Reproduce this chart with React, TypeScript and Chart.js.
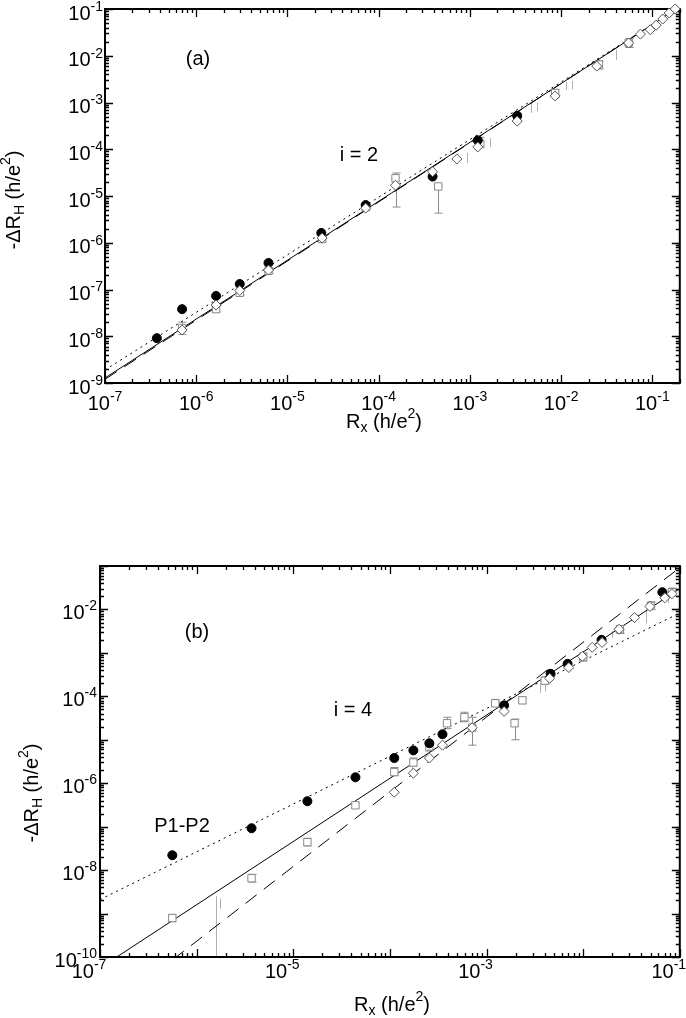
import React, { useEffect, useRef } from "react";
import { Chart, registerables } from "chart.js";
Chart.register(...registerables);

// ================= Panel (a): i = 2 =================
const circlesA_x = [3.7e-7, 7.0e-7, 1.65e-6, 3.0e-6, 6.2e-6, 2.35e-5, 7.2e-5, 3.9e-4, 1.22e-3, 3.3e-3];
const circlesA_y = [9.1e-9, 3.8e-8, 7.3e-8, 1.31e-7, 3.7e-7, 1.62e-6, 6.4e-6, 2.6e-5, 1.55e-4, 5.2e-4];

const squaresA_x = [7.0e-7, 1.65e-6, 3.0e-6, 6.2e-6, 2.4e-5, 7.2e-5, 1.53e-4, 4.5e-4, 1.3e-3, 3.3e-3, 8.6e-3, 2.6e-2, 5.5e-2];
const squaresA_y = [1.5e-8, 3.8e-8, 8.5e-8, 2.5e-7, 1.2e-6, 5.8e-6, 2.4e-5, 1.6e-5, 1.3e-4, 4.6e-4, 1.6e-3, 6.5e-3, 1.9e-2];
const squaresA_lo = [1.1e-8, 3.3e-8, 7.5e-8, 2.2e-7, 1.05e-6, 5.0e-6, 5.8e-6, 4.3e-6, 1.1e-4, 3.9e-4, 1.3e-3, 5.2e-3, 1.5e-2];
const squaresA_hi = [2.0e-8, 4.5e-8, 1.0e-7, 2.9e-7, 1.4e-6, 6.8e-6, 3.1e-5, 1.7e-5, 1.8e-4, 5.6e-4, 1.9e-3, 7.8e-3, 2.3e-2];

const diamondsA_x = [7.0e-7, 1.65e-6, 3.0e-6, 6.2e-6, 2.4e-5, 7.2e-5, 1.53e-4, 3.9e-4, 7.2e-4, 1.22e-3, 3.3e-3, 8.6e-3, 2.46e-2, 5.5e-2, 7.4e-2, 9.5e-2, 0.11, 0.13, 0.153, 0.178];
const diamondsA_y = [1.36e-8, 4.65e-8, 9.5e-8, 2.6e-7, 1.26e-6, 5.5e-6, 1.7e-5, 3.3e-5, 6.2e-5, 1.12e-4, 4.0e-4, 1.38e-3, 6.0e-3, 1.87e-2, 2.9e-2, 3.6e-2, 4.5e-2, 6.1e-2, 8.2e-2, 0.1];

const barsA_x = [9.3e-4, 1.65e-3, 4.7e-3, 5.5e-3, 1.13e-2, 1.32e-2, 3.96e-2];
const barsA_lo = [5.1e-5, 1.12e-4, 6.0e-4, 6.5e-4, 1.85e-3, 1.9e-3, 8.1e-3];
const barsA_hi = [8.3e-5, 1.74e-4, 9.8e-4, 1.0e-3, 2.75e-3, 2.9e-3, 1.33e-2];

const fitSolidA_x = [1e-7, 0.2];
const fitSolidA_y = [1.28e-9, 0.111];
const fitDottedA_x = [1e-7, 0.2];
const fitDottedA_y = [1.9e-9, 0.11];
const fitDashedA_x = [1e-7, 0.2];
const fitDashedA_y = [1.2e-9, 0.112];

const xLabelExpA = [-7, -6, -5, -4, -3, -2, -1];
const yLabelExpA = [-9, -8, -7, -6, -5, -4, -3, -2, -1];

// ================= Panel (b): i = 4 =================
const circlesB_x = [5.6e-7, 3.7e-6, 1.4e-5, 4.4e-5, 1.11e-4, 1.75e-4, 2.56e-4, 3.5e-4, 1.52e-3, 4.6e-3, 6.9e-3, 1.55e-2, 6.6e-2];
const circlesB_y = [2.2e-8, 9.2e-8, 3.85e-7, 1.37e-6, 3.8e-6, 5.7e-6, 8.3e-6, 1.34e-5, 6.2e-5, 3.3e-4, 5.6e-4, 2.0e-3, 2.5e-2];

const squaresB_x = [5.6e-7, 3.7e-6, 1.4e-5, 4.4e-5, 1.11e-4, 1.75e-4, 2.56e-4, 3.9e-4, 5.9e-4, 7.1e-4, 1.23e-3, 1.95e-3, 2.35e-3, 4.0e-3, 1.0e-2, 2.4e-2, 5.0e-2, 8.3e-2];
const squaresB_y = [7.9e-10, 6.5e-9, 4.4e-8, 3.1e-7, 1.8e-6, 3.0e-6, 7.0e-6, 2.4e-5, 3.3e-5, 1.9e-5, 6.9e-5, 2.4e-5, 8.1e-5, 2.3e-4, 8.0e-4, 3.5e-3, 1.2e-2, 2.5e-2];
const squaresB_lo = [6.5e-10, 5.3e-9, 3.6e-8, 2.7e-7, 1.5e-6, 2.5e-6, 5.5e-6, 1.8e-5, 2.6e-5, 7.5e-6, 5.8e-5, 1.0e-5, 6.8e-5, 1.9e-4, 6.5e-4, 2.8e-3, 1.0e-2, 2.1e-2];
const squaresB_hi = [9.5e-10, 8.0e-9, 5.4e-8, 3.6e-7, 2.3e-6, 3.8e-6, 9.0e-6, 3.3e-5, 4.3e-5, 3.3e-5, 8.5e-5, 3.0e-5, 9.6e-5, 2.8e-4, 1.0e-3, 4.3e-3, 1.5e-2, 3.1e-2];

const diamondsB_x = [1.11e-4, 1.75e-4, 2.56e-4, 3.5e-4, 7.1e-4, 1.52e-3, 4.5e-3, 7.1e-3, 9.8e-3, 1.24e-2, 1.57e-2, 2.35e-2, 3.4e-2, 4.9e-2, 7.0e-2, 8.3e-2];
const diamondsB_y = [6.2e-7, 1.7e-6, 3.8e-6, 7.5e-6, 1.9e-5, 4.5e-5, 2.6e-4, 4.6e-4, 8.3e-4, 1.34e-3, 1.74e-3, 3.5e-3, 6.5e-3, 1.17e-2, 1.85e-2, 2.3e-2];

const barsB_x = [1.6e-6, 1.75e-6, 1.7e-4, 3.6e-3, 4.0e-3, 1.7e-2, 2.0e-2, 4.5e-2, 7.5e-2];
const barsB_lo = [1e-10, 1.3e-9, 2e-6, 1.2e-4, 1.3e-4, 1.7e-3, 2.2e-3, 4.8e-3, 1.4e-2];
const barsB_hi = [2.5e-9, 2.2e-9, 4e-6, 2e-4, 2.2e-4, 2.3e-3, 3.2e-3, 9.5e-3, 2.5e-2];

const fitSolidB_x = [1e-7, 0.1];
const fitSolidB_y = [5.6e-11, 3.0e-2];
const fitDottedB_x = [1e-7, 0.1];
const fitDottedB_y = [2.1e-9, 8.3e-3];
const fitDashedB_x = [1e-7, 0.1];
const fitDashedB_y = [4.4e-12, 9.2e-2];

const xLabelExpB = [-7, -5, -3, -1];
const yLabelExpB = [-10, -8, -6, -4, -2];

// ================= drawing helpers =================
const FONT = '"Liberation Sans", Arial, Helvetica, sans-serif';
const BIG = "20px " + FONT;
const SMALL = "14px " + FONT;

type Seg = [string, "n" | "sub" | "sup"];

function drawRich(ctx: CanvasRenderingContext2D, segs: Seg[], cx: number, cy: number, rotate: boolean) {
  ctx.save();
  ctx.translate(cx, cy);
  if (rotate) ctx.rotate(-Math.PI / 2);
  ctx.textBaseline = "middle";
  ctx.textAlign = "left";
  ctx.fillStyle = "#000";
  const widths = segs.map(([t, k]) => {
    ctx.font = k === "n" ? BIG : SMALL;
    return ctx.measureText(t).width;
  });
  const total = widths.reduce((a, b) => a + b, 0);
  let xx = -total / 2;
  segs.forEach(([t, k], i) => {
    ctx.font = k === "n" ? BIG : SMALL;
    const dy = k === "sub" ? 6 : k === "sup" ? -8 : 0;
    ctx.fillText(t, xx, dy);
    xx += widths[i];
  });
  ctx.restore();
}

function drawPow(ctx: CanvasRenderingContext2D, exp: number, px: number, py: number, align: "center" | "right") {
  ctx.save();
  ctx.textBaseline = "middle";
  ctx.textAlign = "left";
  ctx.fillStyle = "#000";
  ctx.font = BIG;
  const bw = ctx.measureText("10").width;
  ctx.font = SMALL;
  const es = String(exp);
  const ew = ctx.measureText(es).width;
  const total = bw + ew;
  const left = align === "center" ? px - total / 2 : px - total;
  ctx.font = BIG;
  ctx.fillText("10", left, py);
  ctx.font = SMALL;
  ctx.fillText(es, left + bw, py - 7);
  ctx.restore();
}

type PanelCfg = {
  xLabelExp: number[];
  yLabelExp: number[];
  xLabelDx: number;
  xLabelY: number;
  yLabelRight: number;
  yLabelDy: number;
  xTitle: [number, number];
  yTitle: [number, number];
  notes: { text: string; x: number; y: number }[];
  errX: number[];
  errLo: number[];
  errHi: number[];
  barX: number[];
  barLo: number[];
  barHi: number[];
};

function makePlugin(cfg: PanelCfg) {
  return {
    id: "panelFrame",
    beforeDatasetsDraw(chart: any) {
      const { ctx, chartArea: a } = chart;
      const xs = chart.scales.x;
      const ys = chart.scales.y;
      ctx.save();
      // error bars of squares
      ctx.strokeStyle = "#8a8a8a";
      ctx.lineWidth = 1;
      cfg.errX.forEach((xv, i) => {
        const px = Math.round(xs.getPixelForValue(xv)) + 0.5;
        const lo = ys.getPixelForValue(cfg.errLo[i]);
        const hi = ys.getPixelForValue(cfg.errHi[i]);
        ctx.beginPath();
        ctx.moveTo(px, lo);
        ctx.lineTo(px, hi);
        ctx.moveTo(px - 4, lo);
        ctx.lineTo(px + 4, lo);
        ctx.moveTo(px - 4, hi);
        ctx.lineTo(px + 4, hi);
        ctx.stroke();
      });
      // extra grey bars
      ctx.strokeStyle = "#b0b0b0";
      cfg.barX.forEach((xv, i) => {
        const px = Math.round(xs.getPixelForValue(xv)) + 0.5;
        ctx.beginPath();
        ctx.moveTo(px, ys.getPixelForValue(cfg.barLo[i]));
        ctx.lineTo(px, ys.getPixelForValue(cfg.barHi[i]));
        ctx.stroke();
      });
      // ticks (inward on all four sides)
      ctx.strokeStyle = "#000";
      ctx.lineWidth = 1.3;
      const ex0 = Math.floor(Math.log10(xs.min));
      const ex1 = Math.ceil(Math.log10(xs.max));
      ctx.beginPath();
      for (let e = ex0; e <= ex1; e++) {
        for (let m = 1; m <= 9; m++) {
          const v = m * Math.pow(10, e);
          if (v < xs.min * 0.9999 || v > xs.max * 1.0001) continue;
          const px = Math.round(xs.getPixelForValue(v)) + 0.5;
          const len = m === 1 ? 8 : 4;
          ctx.moveTo(px, a.bottom);
          ctx.lineTo(px, a.bottom - len);
          ctx.moveTo(px, a.top);
          ctx.lineTo(px, a.top + len);
        }
      }
      const ey0 = Math.floor(Math.log10(ys.min));
      const ey1 = Math.ceil(Math.log10(ys.max));
      for (let e = ey0; e <= ey1; e++) {
        for (let m = 1; m <= 9; m++) {
          const v = m * Math.pow(10, e);
          if (v < ys.min * 0.9999 || v > ys.max * 1.0001) continue;
          const py = Math.round(ys.getPixelForValue(v)) + 0.5;
          const len = m === 1 ? 8 : 4;
          ctx.moveTo(a.left, py);
          ctx.lineTo(a.left + len, py);
          ctx.moveTo(a.right, py);
          ctx.lineTo(a.right - len, py);
        }
      }
      ctx.stroke();
      ctx.lineWidth = 2;
      ctx.strokeRect(a.left, a.top, a.right - a.left, a.bottom - a.top);
      ctx.restore();
    },
    afterDraw(chart: any) {
      const { ctx } = chart;
      const xs = chart.scales.x;
      const ys = chart.scales.y;
      cfg.xLabelExp.forEach((e) => {
        drawPow(ctx, e, xs.getPixelForValue(Math.pow(10, e)) + cfg.xLabelDx, cfg.xLabelY, "center");
      });
      cfg.yLabelExp.forEach((e) => {
        drawPow(ctx, e, cfg.yLabelRight, ys.getPixelForValue(Math.pow(10, e)) + cfg.yLabelDy, "right");
      });
      drawRich(ctx, [["R", "n"], ["x", "sub"], [" (h/e", "n"], ["2", "sup"], [")", "n"]], cfg.xTitle[0], cfg.xTitle[1], false);
      drawRich(ctx, [["-ΔR", "n"], ["H", "sub"], [" (h/e", "n"], ["2", "sup"], [")", "n"]], cfg.yTitle[0], cfg.yTitle[1], true);
      ctx.save();
      ctx.font = BIG;
      ctx.fillStyle = "#000";
      ctx.textAlign = "center";
      ctx.textBaseline = "middle";
      cfg.notes.forEach((n) => ctx.fillText(n.text, n.x, n.y));
      ctx.restore();
    },
  };
}

const pts = (xs: number[], ys: number[]) => xs.map((x, i) => ({ x, y: ys[i] }));

function buildDatasets(p: {
  cx: number[]; cy: number[];
  sx: number[]; sy: number[];
  dx: number[]; dy: number[];
  solid: [number[], number[]]; dotted: [number[], number[]]; dashed: [number[], number[]];
}) {
  const marker = { showLine: false, clip: false as any };
  const line = { showLine: true, pointRadius: 0, borderColor: "#000", borderWidth: 1, fill: false };
  return [
    { ...marker, label: "diamonds", data: pts(p.dx, p.dy), pointStyle: "rectRot", pointRadius: 5, backgroundColor: "#fff", borderColor: "#555", borderWidth: 1 },
    { ...marker, label: "circles", data: pts(p.cx, p.cy), pointStyle: "circle", pointRadius: 4.5, backgroundColor: "#000", borderColor: "#000", borderWidth: 1 },
    { ...marker, label: "squares", data: pts(p.sx, p.sy), pointStyle: "rect", pointRadius: 5.2, backgroundColor: "#fff", borderColor: "#888", borderWidth: 1 },
    { ...line, label: "fit solid", data: pts(p.solid[0], p.solid[1]) },
    { ...line, label: "fit dotted", data: pts(p.dotted[0], p.dotted[1]), borderDash: [2, 4] },
    { ...line, label: "fit dashed", data: pts(p.dashed[0], p.dashed[1]), borderDash: [14, 9] },
  ];
}

function makeChart(canvas: HTMLCanvasElement, datasets: any[], xr: [number, number], yr: [number, number], padding: any, cfg: PanelCfg) {
  return new Chart(canvas, {
    type: "scatter",
    data: { datasets },
    options: {
      responsive: false,
      animation: false,
      devicePixelRatio: 1,
      events: [],
      layout: { padding },
      plugins: { legend: { display: false }, tooltip: { enabled: false }, title: { display: false } },
      scales: {
        x: { type: "logarithmic", min: xr[0], max: xr[1], display: false },
        y: { type: "logarithmic", min: yr[0], max: yr[1], display: false },
      },
    } as any,
    plugins: [makePlugin(cfg)],
  });
}

export default function App() {
  const refA = useRef<HTMLCanvasElement>(null);
  const refB = useRef<HTMLCanvasElement>(null);

  useEffect(() => {
    const chartA = makeChart(
      refA.current!,
      buildDatasets({
        cx: circlesA_x, cy: circlesA_y, sx: squaresA_x, sy: squaresA_y, dx: diamondsA_x, dy: diamondsA_y,
        solid: [fitSolidA_x, fitSolidA_y], dotted: [fitDottedA_x, fitDottedA_y], dashed: [fitDashedA_x, fitDashedA_y],
      }),
      [1e-7, 0.2],
      [1e-9, 1e-1],
      { left: 105, top: 9, right: 2, bottom: 67 },
      {
        xLabelExp: xLabelExpA, yLabelExp: yLabelExpA, xLabelDx: 0, xLabelY: 404, yLabelRight: 103, yLabelDy: 5,
        xTitle: [384, 422], yTitle: [14.5, 200],
        notes: [{ text: "(a)", x: 198, y: 59 }, { text: "i = 2", x: 359, y: 155 }],
        errX: squaresA_x, errLo: squaresA_lo, errHi: squaresA_hi,
        barX: barsA_x, barLo: barsA_lo, barHi: barsA_hi,
      }
    );
    const offB = 450;
    const chartB = makeChart(
      refB.current!,
      buildDatasets({
        cx: circlesB_x, cy: circlesB_y, sx: squaresB_x, sy: squaresB_y, dx: diamondsB_x, dy: diamondsB_y,
        solid: [fitSolidB_x, fitSolidB_y], dotted: [fitDottedB_x, fitDottedB_y], dashed: [fitDashedB_x, fitDashedB_y],
      }),
      [1e-7, 1e-1],
      [1e-10, 1e-1],
      { left: 100, top: 116, right: 5, bottom: 61 },
      {
        xLabelExp: xLabelExpB, yLabelExp: yLabelExpB, xLabelDx: -11, xLabelY: 972 - offB, yLabelRight: 97, yLabelDy: 4,
        xTitle: [392, 1005 - offB], yTitle: [32, 793 - offB],
        notes: [
          { text: "(b)", x: 197, y: 632 - offB },
          { text: "i = 4", x: 353, y: 710 - offB },
          { text: "P1-P2", x: 182, y: 826 - offB },
        ],
        errX: squaresB_x, errLo: squaresB_lo, errHi: squaresB_hi,
        barX: barsB_x, barLo: barsB_lo, barHi: barsB_hi,
      }
    );
    return () => {
      chartA.destroy();
      chartB.destroy();
    };
  }, []);

  return (
    <div style={{ position: "absolute", left: 0, top: 0, width: 686, height: 1018, background: "#fff", overflow: "hidden" }}>
      <canvas ref={refA} width={686} height={450} style={{ position: "absolute", left: 0, top: 0, width: 686, height: 450 }} />
      <canvas ref={refB} width={686} height={568} style={{ position: "absolute", left: 0, top: 450, width: 686, height: 568 }} />
    </div>
  );
}
